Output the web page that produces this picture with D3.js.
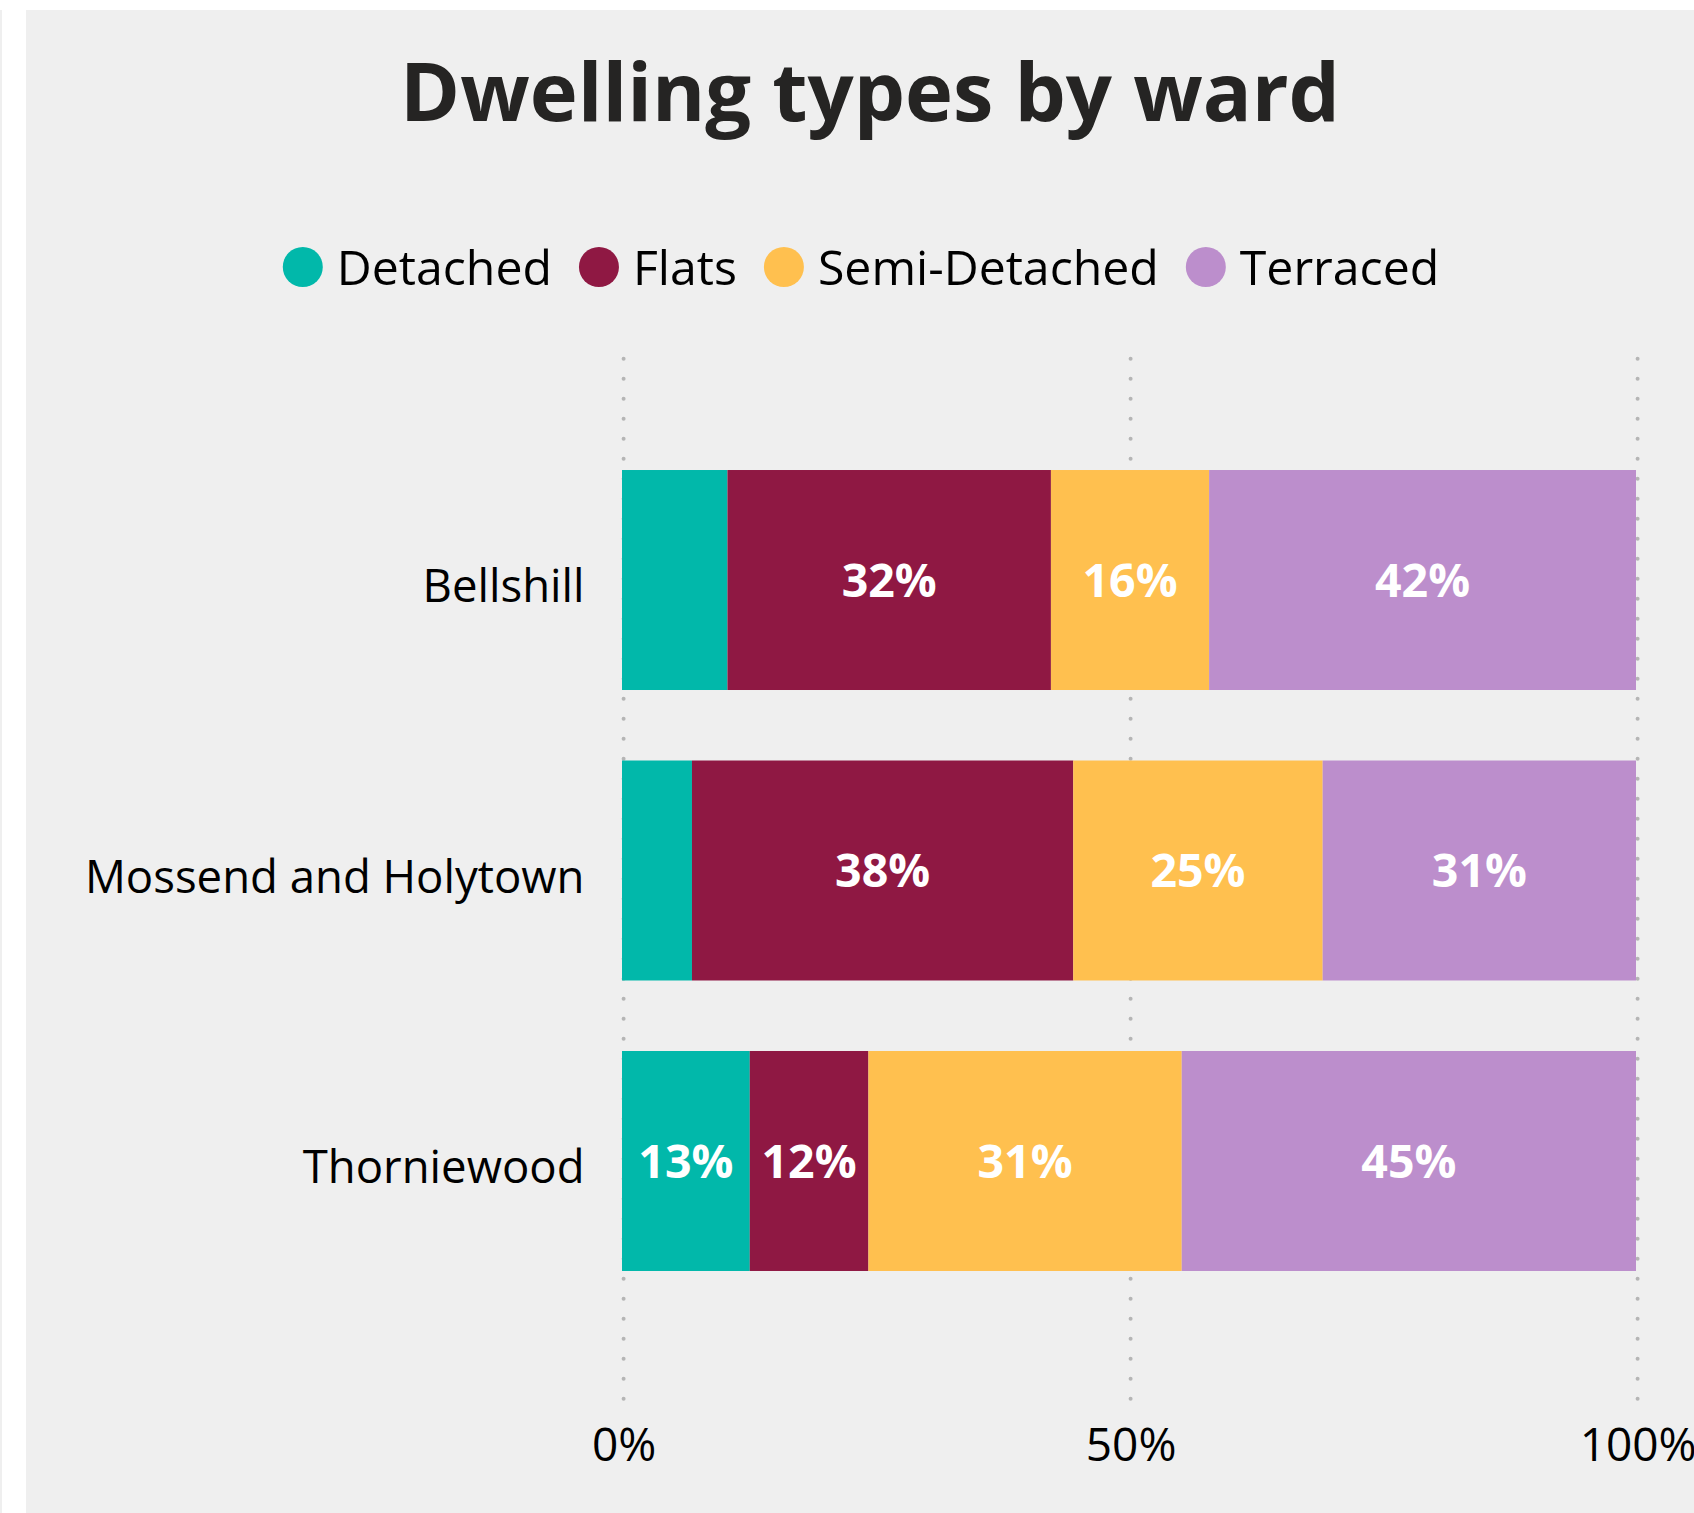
<!DOCTYPE html>
<html>
<head>
<meta charset="utf-8">
<script src="https://cdn.jsdelivr.net/npm/d3@7"></script>
<style>
  html, body { margin: 0; padding: 0; background: #ffffff; }
  svg { display: block; }
  text { font-family: "Segoe UI", "Open Sans", sans-serif; }
</style>
</head>
<body>
<svg id="chart" width="1694" height="1513"></svg>
<script>
// chart data (share of dwellings per ward)
var wards = ["Bellshill", "Mossend and Holytown", "Thorniewood"];
var seriesNames = ["Detached", "Flats", "Semi-Detached", "Terraced"];
var detached = [0.104, 0.069, 0.126];
var flats = [0.319, 0.376, 0.117];
var semiDetached = [0.156, 0.246, 0.309];
var terraced = [0.421, 0.309, 0.448];
var xTicks = [0, 0.5, 1];

var colours = ["#01B8AA", "#8F1843", "#FFC04F", "#BC8ECC"];

var rows = wards.map(function(w, i) {
  return {
    ward: w,
    "Detached": detached[i],
    "Flats": flats[i],
    "Semi-Detached": semiDetached[i],
    "Terraced": terraced[i]
  };
});

var svg = d3.select("#chart");

// page frame
svg.append("rect").attr("x", 0).attr("y", 10).attr("width", 2).attr("height", 1503).attr("fill", "#efefef");
svg.append("rect").attr("x", 26).attr("y", 10).attr("width", 1668).attr("height", 1503).attr("fill", "#efefef");

// title
svg.append("text")
  .attr("x", 870).attr("y", 121)
  .attr("text-anchor", "middle")
  .attr("font-size", 81.2).attr("font-weight", 700)
  .attr("fill", "#252423")
  .text("Dwelling types by ward");

// legend
var legend = svg.append("g");
var lx = 0;
seriesNames.forEach(function(name, i) {
  var item = legend.append("g").attr("transform", "translate(" + lx + ",0)");
  item.append("circle").attr("cx", 20).attr("cy", 267).attr("r", 20).attr("fill", colours[i]);
  var t = item.append("text")
    .attr("x", 54).attr("y", 285)
    .attr("font-size", 48.2).attr("fill", "#000")
    .text(name);
  lx += 54 + t.node().getComputedTextLength() + 27;
});
lx -= 27;
legend.attr("transform", "translate(" + (861 - lx / 2) + ",0)");

// scales
var x = d3.scaleLinear().domain([0, 1]).range([622, 1636]);
var y = d3.scaleBand().domain(wards).range([356, 1385])
  .paddingInner(0.2427).paddingOuter(0.3925);
var colour = d3.scaleOrdinal().domain(seriesNames).range(colours);

// dotted gridlines
var gridOff = 1.6;
svg.append("g").selectAll("line")
  .data(xTicks)
  .enter()
  .append("line")
  .attr("x1", function(d) { return x(d) + gridOff; })
  .attr("x2", function(d) { return x(d) + gridOff; })
  .attr("y1", 358.7).attr("y2", 1400)
  .attr("stroke", "#b5b5b5")
  .attr("stroke-width", 4)
  .attr("stroke-linecap", "round")
  .attr("stroke-dasharray", "0 20");

// x axis labels
var xAxis = svg.append("g")
  .attr("transform", "translate(" + gridOff + ",1461)")
  .call(d3.axisBottom(x).tickValues(xTicks).tickSize(0).tickFormat(d3.format(".0%")));
xAxis.select(".domain").remove();
xAxis.selectAll("text")
  .attr("y", 0).attr("dy", 0)
  .attr("font-family", null)
  .attr("font-size", 46).attr("fill", "#000");

// y axis labels
var yAxis = svg.append("g")
  .attr("transform", "translate(584.5,0)")
  .call(d3.axisLeft(y).tickSize(0).tickPadding(0));
yAxis.select(".domain").remove();
yAxis.selectAll("text")
  .attr("x", 0).attr("dy", "0.49em")
  .attr("font-family", null)
  .attr("font-size", 45.5).attr("fill", "#000");

// stacked bars
var stacked = d3.stack().keys(seriesNames).offset(d3.stackOffsetExpand)(rows);

var layers = svg.append("g").selectAll("g")
  .data(stacked)
  .enter()
  .append("g")
  .attr("fill", function(d) { return colour(d.key); });

layers.selectAll("rect")
  .data(function(d) { return d; })
  .enter()
  .append("rect")
  .attr("x", function(d) { return x(d[0]); })
  .attr("y", function(d) { return y(d.data.ward); })
  .attr("width", function(d) { return x(d[1]) - x(d[0]); })
  .attr("height", y.bandwidth());

// data labels, hidden when they don't fit the segment
var fmt = d3.format(".0%");
layers.selectAll("text")
  .data(function(d) { return d; })
  .enter()
  .append("text")
  .attr("x", function(d) { return (x(d[0]) + x(d[1])) / 2; })
  .attr("y", function(d) { return y(d.data.ward) + y.bandwidth() / 2; })
  .attr("dy", "0.36em")
  .attr("text-anchor", "middle")
  .attr("font-size", 46.5).attr("font-weight", 700)
  .attr("fill", "#ffffff")
  .text(function(d) { return fmt(d[1] - d[0]); })
  .each(function(d) {
    var w = this.getComputedTextLength();
    if (w + 20 > x(d[1]) - x(d[0])) d3.select(this).remove();
  });
</script>
</body>
</html>
